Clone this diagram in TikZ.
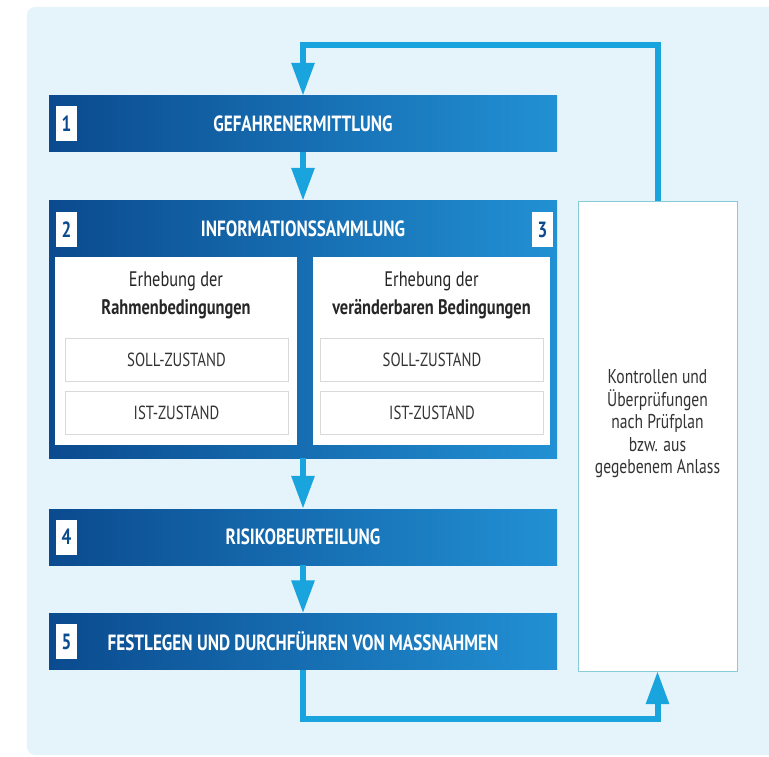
\documentclass[tikz,border=0pt]{standalone}
\usepackage{fontspec}
\setmainfont[FakeStretch=0.78]{PT Sans}
\usetikzlibrary{arrows.meta,positioning}

\definecolor{panelbg}{HTML}{E5F3FA}
\definecolor{stepdark}{HTML}{0B4A8E}
\definecolor{steplight}{HTML}{2290D4}
\definecolor{flowblue}{HTML}{1AA4DE}
\definecolor{framecol}{HTML}{8ACBDA}

\tikzset{
  stepbar/.style={minimum width=508pt, minimum height=56pt, inner sep=0pt,
    left color=stepdark, right color=steplight, text=white,
    font=\fontsize{22}{26}\selectfont\bfseries},
  steptext/.style={text=white, inner sep=0pt, font=\fontsize{22}{26}\selectfont\bfseries},
  numbox/.style={fill=white, text=stepdark, minimum width=21pt, minimum height=35pt,
    inner sep=0pt, font=\fontsize{22}{26}\selectfont\bfseries},
  panel/.style={fill=white, inner sep=0pt},
  statebox/.style={draw=black!15, fill=white, minimum width=223pt, minimum height=43pt,
    inner sep=0pt, text=black!80, font=\fontsize{19}{22}\selectfont},
  flow/.style={draw=flowblue, line width=6pt, -{Triangle[length=33pt,width=22pt]}},
}

\begin{document}
\begin{tikzpicture}[x=1pt,y=-1pt]
% Background
\useasboundingbox (0,0) rectangle (769,757);
\fill[panelbg, rounded corners=8pt] (27,7) rectangle (790,755);

% Steps
\node[stepbar] (haz) at (303,124) {GEFAHRENERMITTLUNG};
\node[stepbar, minimum height=257pt] (info) at (303,329.5) {};
\node[steptext] (infotitle) at (303,229) {INFORMATIONSSAMMLUNG};
\node[stepbar] (risk) at (303,537) {RISIKOBEURTEILUNG};
\node[stepbar] (meas) at (303,641.5) {FESTLEGEN UND DURCHFÜHREN VON MASSNAHMEN};

% Number tags
\node[numbox] (n1) at (66.5,124) {1};
\node[numbox] (n2) at (66.5,229.5) {2};
\node[numbox] (n3) at (542.5,229.5) {3};
\node[numbox] (n4) at (66.5,537) {4};
\node[numbox] (n5) at (66.5,641.5) {5};

% Information panels
\node[panel, minimum width=242pt, minimum height=188pt] (frame) at (176,351) {};
\node[panel, minimum width=237pt, minimum height=188pt] (vary) at (431.5,351) {};
\node[align=center, text=black!85, font=\fontsize{21}{28}\selectfont] (frametxt) at (176,295)
  {Erhebung der\\\textbf{Rahmenbedingungen}};
\node[align=center, text=black!85, font=\fontsize{21}{28}\selectfont] (varytxt) at (431.5,295)
  {Erhebung der\\\textbf{veränderbaren Bedingungen}};
\node[statebox] (fsoll) at (176.5,360) {SOLL-ZUSTAND};
\node[statebox] (fist) at (176.5,412.5) {IST-ZUSTAND};
\node[statebox] (vsoll) at (432,360) {SOLL-ZUSTAND};
\node[statebox] (vist) at (432,412.5) {IST-ZUSTAND};

% Control box
\node[draw=framecol, fill=white, minimum width=159pt, minimum height=470pt] (ctrl) at (657.5,436) {};
\node[align=center, text=black!80, font=\fontsize{20}{22.5}\selectfont] (ctrltxt) at (657.5,424)
  {Kontrollen und\\Überprüfungen\\nach Prüfplan\\bzw. aus\\gegebenem Anlass};

% Flow
\draw[flow] (haz) -- (info);
\draw[flow] (info) -- (risk);
\draw[flow] (risk) -- (meas);
\coordinate (low) at (0,719);
\coordinate (high) at (0,45);
\draw[flow] (meas.south) -- (meas.south |- low) -| (ctrl.south);
\draw[flow] (ctrl.north) -- (ctrl.north |- high) -| (haz.north);
\end{tikzpicture}
\end{document}
